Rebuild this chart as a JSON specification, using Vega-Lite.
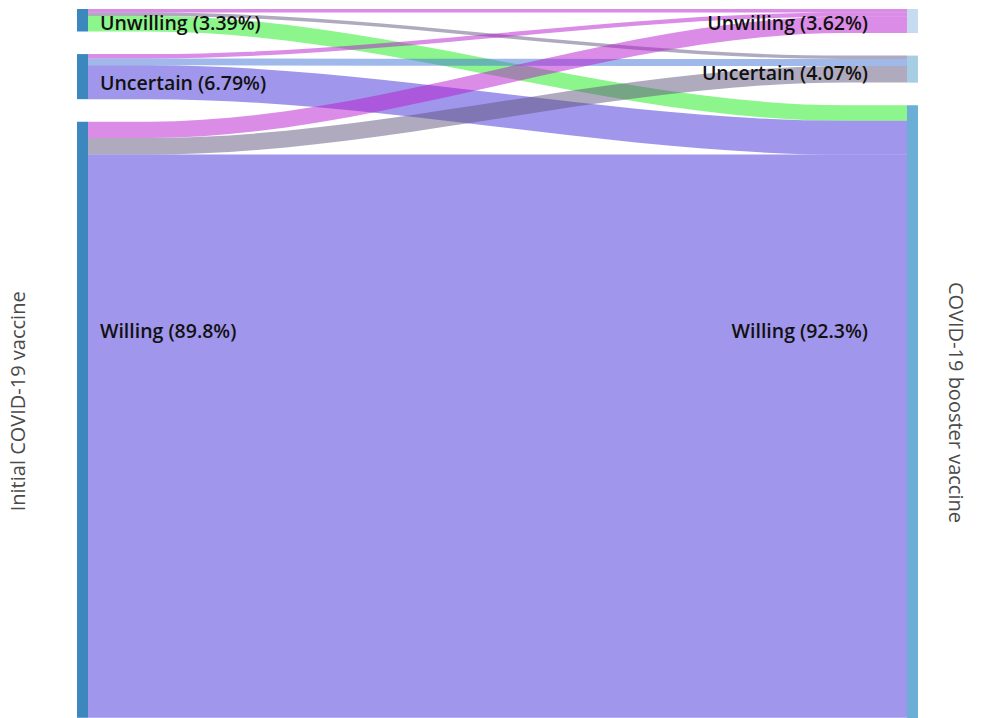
{
  "$schema": "https://vega.github.io/schema/vega-lite/v6.json",
  "width": 982,
  "height": 718,
  "autosize": {"type": "fit", "contains": "padding"},
  "padding": 0,
  "background": "white",
  "config": {"view": {"stroke": null}},
  "datasets": {
    "links": [
      {"link": "Unwilling→Unwilling", "x": 0, "y0": 0, "y1": 0.52},
      {"link": "Unwilling→Unwilling", "x": 0.075, "y0": 0, "y1": 0.52},
      {"link": "Unwilling→Unwilling", "x": 0.925, "y0": 0, "y1": 0.52},
      {"link": "Unwilling→Unwilling", "x": 1, "y0": 0, "y1": 0.52},
      {"link": "Unwilling→Uncertain", "x": 0, "y0": 0.52, "y1": 1.04},
      {"link": "Unwilling→Uncertain", "x": 0.075, "y0": 0.52, "y1": 1.04},
      {"link": "Unwilling→Uncertain", "x": 0.925, "y0": 7.02, "y1": 7.54},
      {"link": "Unwilling→Uncertain", "x": 1, "y0": 7.02, "y1": 7.54},
      {"link": "Unwilling→Willing", "x": 0, "y0": 1.04, "y1": 3.39},
      {"link": "Unwilling→Willing", "x": 0.075, "y0": 1.04, "y1": 3.39},
      {"link": "Unwilling→Willing", "x": 0.925, "y0": 14.49, "y1": 16.84},
      {"link": "Unwilling→Willing", "x": 1, "y0": 14.49, "y1": 16.84},
      {"link": "Uncertain→Unwilling", "x": 0, "y0": 6.79, "y1": 7.44},
      {"link": "Uncertain→Unwilling", "x": 0.075, "y0": 6.79, "y1": 7.44},
      {"link": "Uncertain→Unwilling", "x": 0.925, "y0": 0.52, "y1": 1.17},
      {"link": "Uncertain→Unwilling", "x": 1, "y0": 0.52, "y1": 1.17},
      {"link": "Uncertain→Uncertain", "x": 0, "y0": 7.44, "y1": 8.49},
      {"link": "Uncertain→Uncertain", "x": 0.075, "y0": 7.44, "y1": 8.49},
      {"link": "Uncertain→Uncertain", "x": 0.925, "y0": 7.54, "y1": 8.59},
      {"link": "Uncertain→Uncertain", "x": 1, "y0": 7.54, "y1": 8.59},
      {"link": "Uncertain→Willing", "x": 0, "y0": 8.49, "y1": 13.58},
      {"link": "Uncertain→Willing", "x": 0.075, "y0": 8.49, "y1": 13.58},
      {"link": "Uncertain→Willing", "x": 0.925, "y0": 16.84, "y1": 21.93},
      {"link": "Uncertain→Willing", "x": 1, "y0": 16.84, "y1": 21.93},
      {"link": "Willing→Unwilling", "x": 0, "y0": 16.98, "y1": 19.43},
      {"link": "Willing→Unwilling", "x": 0.075, "y0": 16.98, "y1": 19.43},
      {"link": "Willing→Unwilling", "x": 0.925, "y0": 1.17, "y1": 3.62},
      {"link": "Willing→Unwilling", "x": 1, "y0": 1.17, "y1": 3.62},
      {"link": "Willing→Uncertain", "x": 0, "y0": 19.43, "y1": 21.93},
      {"link": "Willing→Uncertain", "x": 0.075, "y0": 19.43, "y1": 21.93},
      {"link": "Willing→Uncertain", "x": 0.925, "y0": 8.59, "y1": 11.09},
      {"link": "Willing→Uncertain", "x": 1, "y0": 8.59, "y1": 11.09},
      {"link": "Willing→Willing", "x": 0, "y0": 21.93, "y1": 106.78},
      {"link": "Willing→Willing", "x": 0.075, "y0": 21.93, "y1": 106.78},
      {"link": "Willing→Willing", "x": 0.925, "y0": 21.93, "y1": 106.78},
      {"link": "Willing→Willing", "x": 1, "y0": 21.93, "y1": 106.78}
    ],
    "nodes": [
      {"side": "Initial", "key": "Initial Unwilling", "y0": 0, "y1": 3.39, "label": "Unwilling (3.39%)", "ly": 1.96},
      {"side": "Initial", "key": "Initial Uncertain", "y0": 6.79, "y1": 13.58, "label": "Uncertain (6.79%)", "ly": 11.0},
      {"side": "Initial", "key": "Initial Willing", "y0": 16.98, "y1": 106.78, "label": "Willing (89.8%)", "ly": 48.3},
      {"side": "Booster", "key": "Booster Unwilling", "y0": 0, "y1": 3.62, "label": "Unwilling (3.62%)", "ly": 1.96},
      {"side": "Booster", "key": "Booster Uncertain", "y0": 7.02, "y1": 11.09, "label": "Uncertain (4.07%)", "ly": 9.5},
      {"side": "Booster", "key": "Booster Willing", "y0": 14.49, "y1": 106.79, "label": "Willing (92.3%)", "ly": 48.3}
    ],
    "titles": [
      {"side": "Initial", "t": "Initial COVID-19 vaccine"},
      {"side": "Booster", "t": "COVID-19 booster vaccine"}
    ]
  },
  "layer": [
    {
      "data": {"name": "links"},
      "mark": {"type": "area", "interpolate": "monotone", "opacity": 0.5},
      "encoding": {
        "x": {"field": "x", "type": "quantitative", "scale": {"domain": [-0.10745, 1.09158], "nice": false, "zero": false}, "axis": null},
        "y": {"field": "y0", "type": "quantitative", "scale": {"domain": [-1.356, 106.8], "reverse": true, "nice": false, "zero": false}, "axis": null},
        "y2": {"field": "y1"},
        "color": {
          "field": "link", "type": "nominal", "legend": null,
          "scale": {
            "domain": ["Unwilling→Unwilling", "Unwilling→Uncertain", "Unwilling→Willing", "Uncertain→Unwilling", "Uncertain→Uncertain", "Uncertain→Willing", "Willing→Unwilling", "Willing→Uncertain", "Willing→Willing", "Initial Unwilling", "Initial Uncertain", "Initial Willing", "Booster Unwilling", "Booster Uncertain", "Booster Willing"],
            "range": ["#B519CD", "#5F557D", "#19EB19", "#B519CD", "#4173D7", "#412DD7", "#B519CD", "#5F557D", "#412DD7", "#3C87BE", "#3C87BE", "#3C87BE", "#C6DBEF", "#A6CEE3", "#6BAED6"]
          }
        }
      }
    },
    {
      "data": {"name": "nodes"},
      "transform": [{"filter": "datum.side === 'Initial'"}],
      "mark": {"type": "rect"},
      "encoding": {
        "x": {"datum": -0.0134, "type": "quantitative"},
        "x2": {"datum": 0},
        "y": {"field": "y0", "type": "quantitative"},
        "y2": {"field": "y1"},
        "color": {"field": "key", "type": "nominal", "legend": null}
      }
    },
    {
      "data": {"name": "nodes"},
      "transform": [{"filter": "datum.side === 'Booster'"}],
      "mark": {"type": "rect"},
      "encoding": {
        "x": {"datum": 1, "type": "quantitative"},
        "x2": {"datum": 1.0134},
        "y": {"field": "y0", "type": "quantitative"},
        "y2": {"field": "y1"},
        "color": {"field": "key", "type": "nominal", "legend": null}
      }
    },
    {
      "data": {"name": "nodes"},
      "transform": [{"filter": "datum.side === 'Initial'"}],
      "mark": {"type": "text", "align": "left", "baseline": "middle", "dy": 2, "font": "Open Sans", "fontSize": 19.5, "fontWeight": 600, "color": "#111111"},
      "encoding": {
        "x": {"datum": 0.0146, "type": "quantitative"},
        "y": {"field": "ly", "type": "quantitative"},
        "text": {"field": "label"}
      }
    },
    {
      "data": {"name": "nodes"},
      "transform": [{"filter": "datum.side === 'Booster'"}],
      "mark": {"type": "text", "align": "right", "baseline": "middle", "dy": 2, "font": "Open Sans", "fontSize": 19.5, "fontWeight": 600, "color": "#111111"},
      "encoding": {
        "x": {"datum": 0.9524, "type": "quantitative"},
        "y": {"field": "ly", "type": "quantitative"},
        "text": {"field": "label"}
      }
    },
    {
      "data": {"name": "titles"},
      "transform": [{"filter": "datum.side === 'Initial'"}],
      "mark": {"type": "text", "align": "center", "baseline": "middle", "angle": 270, "font": "Open Sans", "fontSize": 20, "color": "#4a4a4a"},
      "encoding": {
        "x": {"datum": -0.0842, "type": "quantitative"},
        "y": {"datum": 59.1, "type": "quantitative"},
        "text": {"field": "t"}
      }
    },
    {
      "data": {"name": "titles"},
      "transform": [{"filter": "datum.side === 'Booster'"}],
      "mark": {"type": "text", "align": "center", "baseline": "middle", "angle": 90, "font": "Open Sans", "fontSize": 20, "color": "#4a4a4a"},
      "encoding": {
        "x": {"datum": 1.0592, "type": "quantitative"},
        "y": {"datum": 59.27, "type": "quantitative"},
        "text": {"field": "t"}
      }
    }
  ]
}
